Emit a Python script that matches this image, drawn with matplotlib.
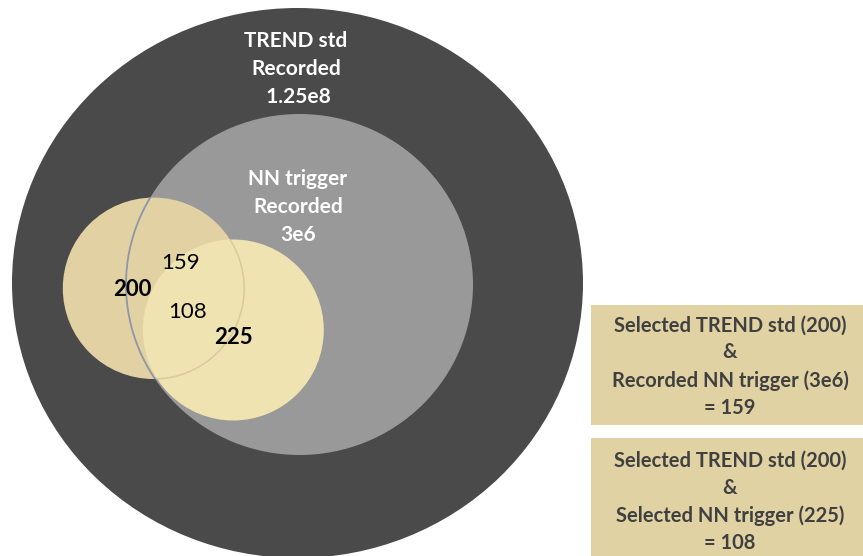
import matplotlib
matplotlib.use("Agg")
import matplotlib.pyplot as plt
from matplotlib.patches import Ellipse, Circle, Rectangle

# ---- data ----
outer_label = "TREND std\nRecorded\n 1.25e8"
inner_label = "NN trigger\nRecorded\n3e6"
region_labels = ["200", "159", "108", "225"]
region_bold = [True, False, False, True]
box_texts = [
    "Selected TREND std (200)\n&\nRecorded NN trigger (3e6)\n= 159",
    "Selected TREND std (200)\n&\nSelected NN trigger (225)\n= 108",
]

# ---- layout (pixel coordinates, y downward) ----
FONT = ["Lato", "DejaVu Sans"]
W, H = 863, 556
fig = plt.figure(figsize=(W / 100, H / 100), dpi=100)
ax = fig.add_axes([0, 0, 1, 1])
ax.set_xlim(0, W)
ax.set_ylim(H, 0)
ax.axis("off")

outer = Ellipse((297.5, 283), 571, 550, facecolor="#4A4A4A", edgecolor="none")
gray = Ellipse((299.5, 284.5), 347, 341, facecolor="#999999", edgecolor="none")
tan = Circle((153.5, 288.3), 90.7, facecolor="#E1D1A3", edgecolor="none")
yellow = Circle((233.3, 330), 90.5, facecolor="#EFE4B1", edgecolor="none")
for p in (outer, gray, tan, yellow):
    ax.add_patch(p)

# visible outlines inside overlapping regions
gray_edge = Ellipse((299.5, 284.5), 347, 341, fill=False, edgecolor="#8E97A9", lw=1.3)
ax.add_patch(gray_edge)
gray_edge.set_clip_path(tan)
tan_edge = Circle((153.5, 288.3), 90.7, fill=False, edgecolor="#D8C99E", lw=1.1)
ax.add_patch(tan_edge)
tan_edge.set_clip_path(yellow)

ax.text(296, 69, outer_label, color="white", fontsize=15, fontweight="bold",
        ha="center", va="center", family=FONT, linespacing=1.5)
ax.text(298, 207, inner_label, color="white", fontsize=15, fontweight="bold",
        ha="center", va="center", family=FONT, linespacing=1.52)

region_pos = [(132, 289), (181, 263), (188, 312), (233, 337)]
for (x, y), lab, b in zip(region_pos, region_labels, region_bold):
    ax.text(x, y, lab, color="black", fontsize=16,
            fontweight="bold" if b else "normal",
            ha="center", va="center", family=FONT)

box_rects = [(591, 305, 285, 120), (591, 438, 285, 125)]
box_centers = [(730, 366.5), (730, 502)]
for (x, y, w, h), (cx, cy), t in zip(box_rects, box_centers, box_texts):
    ax.add_patch(Rectangle((x, y), w, h, facecolor="#E1D2A4", edgecolor="none"))
    ax.text(cx, cy, t, color="#404040", fontsize=14.5, fontweight="bold",
            ha="center", va="center", family=FONT, linespacing=1.45)

fig.savefig("out.png", dpi=100)
